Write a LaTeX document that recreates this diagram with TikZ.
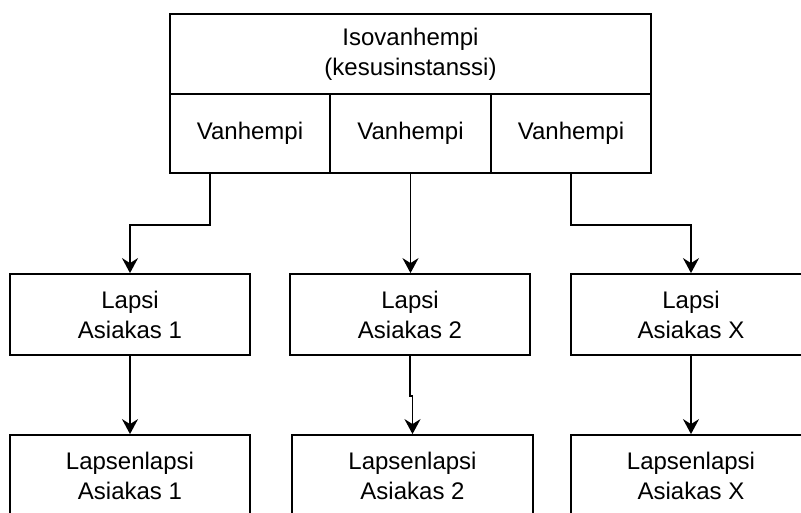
\documentclass[tikz,border=0pt]{standalone}
\usepackage{fontspec}
\setmainfont{Liberation Sans}
\usetikzlibrary{arrows.meta}
\begin{document}
\begin{tikzpicture}[x=1pt,y=-1pt,
  box/.style={draw=black,line width=1.8pt,rectangle,inner sep=0pt,
    align=center,font=\fontsize{24}{30}\selectfont},
  arr/.style={draw=black,line width=1.8pt,
    -{Stealth[length=15pt,width=16pt,inset=5pt]}}]
\useasboundingbox (0,0) rectangle (801,512);
\clip (0,0) rectangle (801,512);
% top block: title row and three parent cells
\node[box,minimum width=481pt,minimum height=80pt] (iso) at (410.5,54)
  {Isovanhempi\\(kesusinstanssi)};
\node[box,minimum width=160pt,minimum height=79pt] (v1) at (250,133.5) {Vanhempi};
\node[box,minimum width=161pt,minimum height=79pt] (v2) at (410.5,133.5) {Vanhempi};
\node[box,minimum width=160pt,minimum height=79pt] (v3) at (571,133.5) {Vanhempi};
% children
\node[box,minimum width=240pt,minimum height=81pt] (l1) at (130,314.5) {Lapsi\\Asiakas 1};
\node[box,minimum width=240pt,minimum height=81pt] (l2) at (410,314.5) {Lapsi\\Asiakas 2};
\node[box,minimum width=240pt,minimum height=81pt] (l3) at (691,314.5) {Lapsi\\Asiakas X};
% grandchildren
\node[box,minimum width=240pt,minimum height=81pt] (g1) at (130,475.5) {Lapsenlapsi\\Asiakas 1};
\node[box,minimum width=241pt,minimum height=81pt] (g2) at (412.5,475.5) {Lapsenlapsi\\Asiakas 2};
\node[box,minimum width=240pt,minimum height=81pt] (g3) at (691,475.5) {Lapsenlapsi\\Asiakas X};
% connectors
\draw[arr] ([xshift=-40pt]v1.south) -- ++(0,51) -| (l1.north);
\draw[arr] (v2.south) -- (v2.south |- l2.north);
\draw[arr] (v3.south) -- ++(0,51) -| (l3.north);
\draw[arr] (l1.south) -- (g1.north);
\draw[arr] (l2.south) -- ++(0,40) -| (g2.north);
\draw[arr] (l3.south) -- (g3.north);
\end{tikzpicture}
\end{document}
